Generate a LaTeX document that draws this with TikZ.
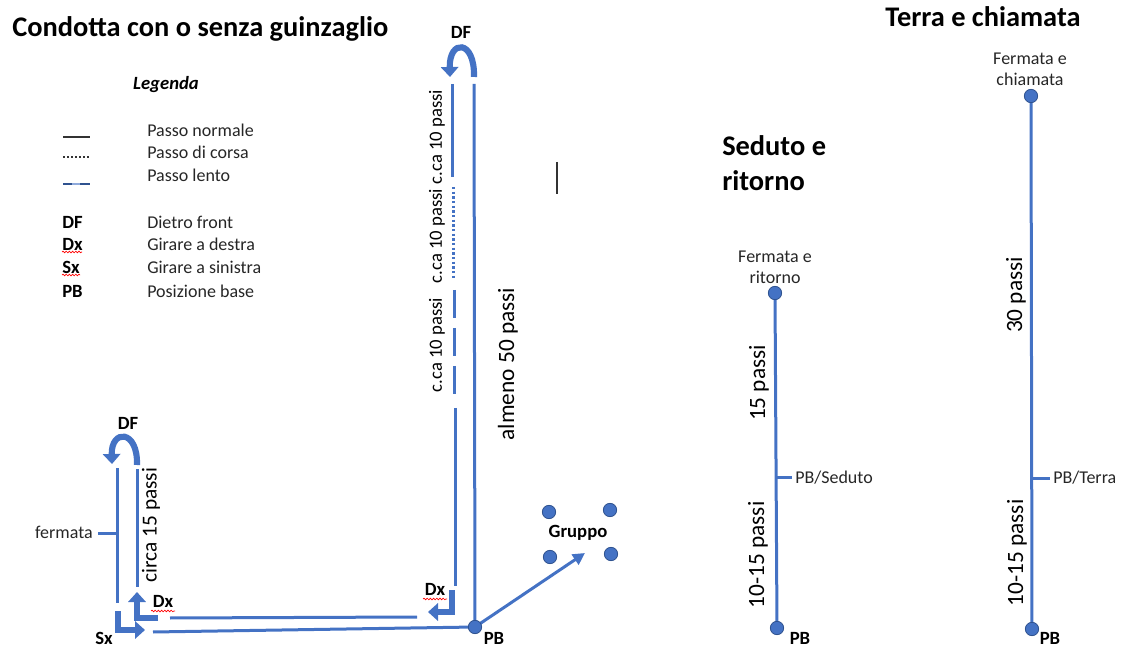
\documentclass[tikz,border=0pt]{standalone}
\usepackage{fontspec}
\setmainfont{Carlito}
\usetikzlibrary{arrows.meta,decorations.pathmorphing}
\definecolor{ob}{HTML}{4472C4}
\definecolor{obd}{HTML}{2F528F}
\definecolor{obl}{HTML}{8FAADC}
\begin{document}
\begin{tikzpicture}[x=0.75pt,y=-0.75pt,
 lab/.style={font=\fontsize{13.5}{16}\selectfont, inner sep=0pt, text=black!85},
 blab/.style={font=\fontsize{14}{16}\selectfont\bfseries, inner sep=0pt},
 big/.style={font=\fontsize{21.3}{25}\selectfont\bfseries, inner sep=0pt},
 vlab/.style={font=\fontsize{17.5}{20}\selectfont, inner sep=0pt, rotate=90},
 slab/.style={font=\fontsize{14}{16}\selectfont, inner sep=0pt, rotate=90},
 walk/.style={draw=ob, line width=2.25pt},
 run/.style={walk, dash pattern=on 1.8pt off 1.7pt},
 slow/.style={walk, dash pattern=on 21pt off 7.5pt},
 turn/.style={draw=ob, line width=4.6pt, -{Triangle[width=13pt,length=7.5pt]}},
 toward/.style={walk, -{Triangle[width=9pt,length=9pt]}},
 dot/.style={circle, fill=ob, draw=obd, line width=0.6pt, minimum size=10pt, inner sep=0pt},
 spell/.style={draw=red, line width=0.5pt, decorate, decoration={snake, segment length=2.4pt, amplitude=0.6pt}},
]
\path[use as bounding box] (0,0) rectangle (1121,648);

% titles
\node[big, anchor=west] (title) at (12,29) {Condotta con o senza guinzaglio};
\node[big] (terra) at (983,17) {Terra e chiamata};
\node[big, anchor=west] (sed1) at (722,146) {Seduto e};
\node[big, anchor=west] (sed2) at (722,181) {ritorno};

% legend
\node[font=\fontsize{14}{16}\selectfont\bfseries\itshape, inner sep=0pt] (leg) at (166,85) {Legenda};
\coordinate (ln1a) at (63,137); \coordinate (ln1b) at (90,137);
\coordinate (ln2a) at (63,157); \coordinate (ln2b) at (90,157);
\coordinate (ln3a) at (63,184); \coordinate (ln3b) at (90,184);
\coordinate (ln3c) at (72,184); \coordinate (ln3d) at (80,184);
\draw[black!80, line width=1.2pt] (ln1a) -- (ln1b);
\draw[black!80, line width=1.4pt, dash pattern=on 1.4pt off 1.6pt] (ln2a) -- (ln2b);
\draw[obd, line width=2.2pt] (ln3a) -- (ln3b);
\draw[obl, line width=1.4pt] (ln3c) -- (ln3d);
\node[lab, anchor=west] (t1) at (147,130) {Passo normale};
\node[lab, anchor=west] (t2) at (147,152) {Passo di corsa};
\node[lab, anchor=west] (t3) at (147,175) {Passo lento};
\node[blab, anchor=west] (k1) at (62,222) {DF};
\node[blab, anchor=west] (k2) at (62,244) {Dx};
\node[blab, anchor=west] (k3) at (62,267) {Sx};
\node[blab, anchor=west] (k4) at (62,291) {PB};
\node[lab, anchor=west] (d1) at (147,222) {Dietro front};
\node[lab, anchor=west] (d2) at (147,244) {Girare a destra};
\node[lab, anchor=west] (d3) at (147,267) {Girare a sinistra};
\node[lab, anchor=west] (d4) at (147,291) {Posizione base};
\coordinate (w1a) at (62,252); \coordinate (w1b) at (82,252);
\coordinate (w2a) at (62,275); \coordinate (w2b) at (80,275);
\draw[spell] (w1a) -- (w1b);
\draw[spell] (w2a) -- (w2b);

% vertical bar
\coordinate (bar1) at (557,162); \coordinate (bar2) at (557,194);
\draw[black!80, line width=0.9pt] (bar1) -- (bar2);

% long route
\coordinate (PB) at (475,627);
\coordinate (R1) at (474,84);
\coordinate (L1) at (452,84); \coordinate (L2) at (452,177);
\coordinate (L3) at (453,187); \coordinate (L4) at (453,280);
\coordinate (L5) at (454,290); \coordinate (L6) at (454,396);
\coordinate (L7) at (455,408); \coordinate (L8) at (455,586);
\draw[walk] (R1) -- (PB);
\draw[walk] (L1) -- (L2);
\draw[run] (L3) -- (L4);
\draw[slow] (L5) -- (L6);
\draw[walk] (L7) -- (L8);
\coordinate (df1a) at (474,77); \coordinate (df1b) at (450,77);
\draw[turn] (df1a) .. controls (475,39) and (449,39) .. (df1b);
\node[blab] (DFtop) at (461,32) {DF};
\node[slab] (c1) at (437,137) {c.ca 10 passi};
\node[slab] (c2) at (437,236) {c.ca 10 passi};
\node[slab] (c3) at (437,345) {c.ca 10 passi};
\node[vlab] (alm) at (508,364) {almeno 50 passi};

% Dx at the bottom of the long route
\coordinate (dx1a) at (452,590); \coordinate (dx1b) at (452,612); \coordinate (dx1c) at (428,612);
\draw[turn] (dx1a) -- (dx1b) -- (dx1c);
\node[blab] (Dx1) at (435,589) {Dx};
\coordinate (w3a) at (423,599); \coordinate (w3b) at (447,599);
\draw[spell] (w3a) -- (w3b);

% horizontal lines
\coordinate (H1) at (170,618); \coordinate (H2) at (417,617);
\coordinate (H3) at (153,632);
\draw[walk] (H1) -- (H2);
\draw[walk] (H3) -- (PB);

% group
\coordinate (G) at (585,553);
\draw[toward] (PB) -- (G);
\node[dot] (g1) at (549,512) {};
\node[dot] (g2) at (610,510) {};
\node[dot] (g3) at (550,557) {};
\node[dot] (g4) at (611,554) {};
\node[blab] (grp) at (578,533) {Gruppo};
\node[dot] (PBdot) at (PB) {};
\node[blab] (PBl) at (494,638) {PB};

% short route
\coordinate (S1) at (117,468); \coordinate (S2) at (117,603);
\coordinate (S3) at (137,469); \coordinate (S4) at (137,587);
\coordinate (F1) at (98,533); \coordinate (F2) at (117,533);
\draw[walk] (S1) -- (S2);
\draw[walk] (S3) -- (S4);
\draw[walk] (F1) -- (F2);
\node[lab, anchor=east] (ferm) at (93,532) {fermata};
\node[font=\fontsize{16}{18}\selectfont, inner sep=0pt, rotate=90] (circa) at (151,525) {circa 15 passi};
\coordinate (df2a) at (137,465); \coordinate (df2b) at (112,464);
\draw[turn] (df2a) .. controls (138,429) and (111,429) .. (df2b);
\node[blab] (DFlow) at (128,423) {DF};
\coordinate (sx1) at (118,611); \coordinate (sx2) at (118,630); \coordinate (sx3) at (145,630);
\draw[turn] (sx1) -- (sx2) -- (sx3);
\node[blab] (Sx) at (104,638) {Sx};
\coordinate (dx2a) at (158,618); \coordinate (dx2b) at (137,618); \coordinate (dx2c) at (137,592);
\draw[turn] (dx2a) -- (dx2b) -- (dx2c);
\node[blab] (Dx2) at (163,601) {Dx};
\coordinate (w4a) at (151,611); \coordinate (w4b) at (175,611);
\draw[spell] (w4a) -- (w4b);

% Seduto e ritorno
\coordinate (sA) at (775,293); \coordinate (sB) at (777,628);
\coordinate (sT1) at (777,477); \coordinate (sT2) at (792,477);
\draw[walk] (sA) -- (sB);
\draw[walk] (sT1) -- (sT2);
\node[dot] (sAd) at (sA) {};
\node[dot] (sBd) at (sB) {};
\node[lab, align=center] (sfr) at (775,267) {Fermata e\\ritorno};
\node[lab, anchor=west] (sps) at (795,478) {PB/Seduto};
\node[vlab] (s15) at (759,383) {15 passi};
\node[vlab] (s1015) at (758,555) {10-15 passi};
\node[blab] (sPB) at (800,638) {PB};

% Terra e chiamata
\coordinate (tA) at (1031,96); \coordinate (tB) at (1032,629);
\coordinate (tT1) at (1032,478); \coordinate (tT2) at (1050,478);
\draw[walk] (tA) -- (tB);
\draw[walk] (tT1) -- (tT2);
\node[dot] (tAd) at (tA) {};
\node[dot] (tBd) at (tB) {};
\node[lab, align=center] (tfr) at (1030,69) {Fermata e\\chiamata};
\node[lab, anchor=west] (tps) at (1053,478) {PB/Terra};
\node[vlab] (t30) at (1016,295) {30 passi};
\node[vlab] (t1015) at (1017,553) {10-15 passi};
\node[blab] (tPB) at (1050,638) {PB};
\end{tikzpicture}
\end{document}
